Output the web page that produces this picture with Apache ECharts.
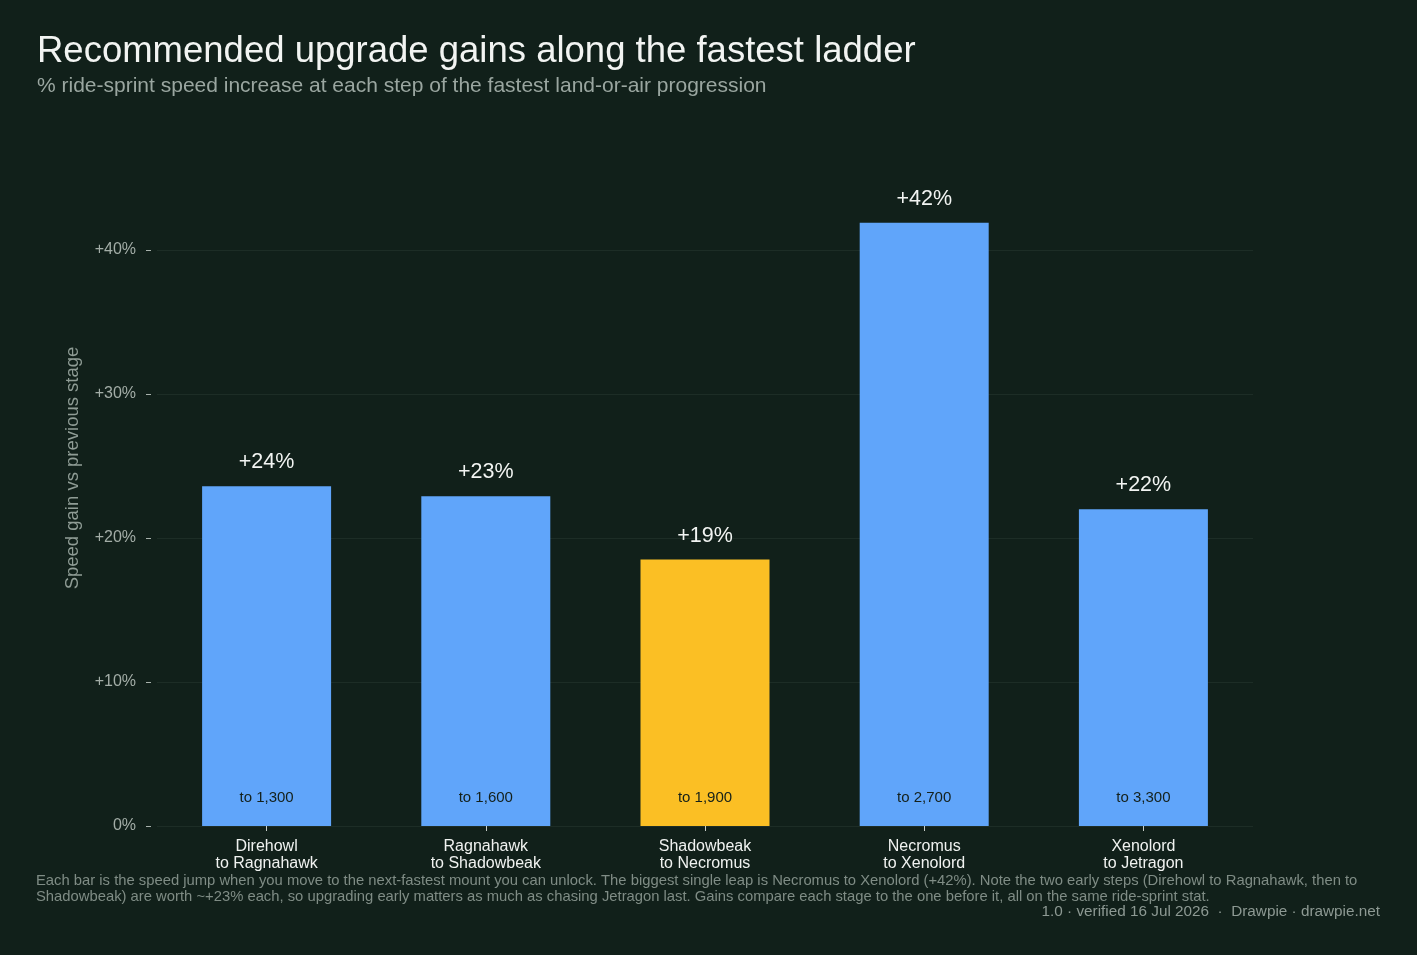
<!DOCTYPE html>
<html>
<head>
<meta charset="utf-8">
<script src="https://cdn.jsdelivr.net/npm/echarts@6/dist/echarts.min.js"></script>
<style>
  html, body { margin: 0; padding: 0; background: #11201a; }
  #main { width: 1417px; height: 955px; }
</style>
</head>
<body>
<div id="main"></div>
<script>
// ladder steps
var fromMounts = ['Direhowl', 'Ragnahawk', 'Shadowbeak', 'Necromus', 'Xenolord'];
var toMounts = ['Ragnahawk', 'Shadowbeak', 'Necromus', 'Xenolord', 'Jetragon'];
// % gain vs previous stage
var gains = [23.6, 22.9, 18.5, 41.9, 22.0];
// ride-sprint speed reached
var targetSpeeds = [1300, 1600, 1900, 2700, 3300];
var highlightIndex = 2;
var yTicks = [0, 10, 20, 30, 40];

var categories = fromMounts.map(function (f, i) { return f + '\nto ' + toMounts[i]; });

var chartDom = document.getElementById('main');
var myChart = echarts.init(chartDom, null, { renderer: 'canvas' });

var fontFam = '"Liberation Sans", Arial, sans-serif';

var option = {
    backgroundColor: '#11201a',
    animation: false,
    textStyle: { fontFamily: fontFam },
    title: {
        text: 'Recommended upgrade gains along the fastest ladder',
        subtext: '% ride-sprint speed increase at each step of the fastest land-or-air progression',
        left: 32,
        top: 28,
        itemGap: 6,
        textStyle: { color: '#f2f4f2', fontSize: 36.5, fontWeight: 'normal', fontFamily: fontFam },
        subtextStyle: { color: '#9aa6a0', fontSize: 21, fontFamily: fontFam }
    },
    grid: {
        left: 157,
        right: 164,
        top: 250,
        bottom: 129,
        containLabel: false
    },
    xAxis: {
        type: 'category',
        data: categories,
        axisLine: { show: false },
        axisTick: { show: true, alignWithLabel: true, length: 5, lineStyle: { color: '#c8cec9' } },
        axisLabel: { color: '#f0f2f0', fontSize: 16, margin: 12, lineHeight: 17 }
    },
    yAxis: {
        type: 'value',
        min: yTicks[0],
        max: yTicks[yTicks.length - 1],
        interval: 10,
        offset: 6,
        axisLine: { show: false },
        axisTick: { show: true, length: 5, lineStyle: { color: '#a8b2ac' } },
        axisLabel: {
            color: '#a3ada7',
            fontSize: 16,
            margin: 15,
            formatter: function (v) { return v === 0 ? '0%' : '+' + v + '%'; }
        },
        splitLine: { show: true, lineStyle: { color: '#1d2d26', width: 1 } }
    },
    series: [
        {
            type: 'bar',
            data: gains.map(function (v, i) {
                return { value: v, itemStyle: { color: i === highlightIndex ? '#fbbf24' : '#60a5fa' } };
            }),
            barWidth: 129,
            clip: false,
            label: {
                show: true,
                position: 'top',
                distance: 13,
                color: '#f2f4f2',
                fontSize: 21.5,
                formatter: function (p) { return '+' + Math.round(p.value) + '%'; }
            }
        },
        {
            type: 'bar',
            data: gains,
            barWidth: 129,
            barGap: '-100%',
            clip: false,
            silent: true,
            itemStyle: { color: 'rgba(0,0,0,0)' },
            label: {
                show: true,
                position: 'insideBottom',
                distance: 21,
                color: '#14201a',
                fontSize: 15,
                formatter: function (p) { return 'to ' + targetSpeeds[p.dataIndex].toLocaleString('en-US'); }
            }
        }
    ],
    graphic: [
        {
            type: 'text',
            x: 73,
            y: 468,
            rotation: Math.PI / 2,
            style: {
                text: 'Speed gain vs previous stage',
                fill: '#8f9c95',
                fontSize: 18.5,
                align: 'center',
                verticalAlign: 'middle',
                fontFamily: fontFam
            }
        },
        {
            type: 'text',
            left: 36,
            top: 873,
            style: {
                text: 'Each bar is the speed jump when you move to the next-fastest mount you can unlock. The biggest single leap is Necromus to Xenolord (+42%). Note the two early steps (Direhowl to Ragnahawk, then to\nShadowbeak) are worth ~+23% each, so upgrading early matters as much as chasing Jetragon last. Gains compare each stage to the one before it, all on the same ride-sprint stat.',
                fill: '#7f8c85',
                fontSize: 14.8,
                lineHeight: 16,
                fontFamily: fontFam
            }
        },
        {
            type: 'text',
            right: 37,
            top: 904,
            style: {
                text: '1.0 \u00b7 verified 16 Jul 2026  \u00b7  Drawpie \u00b7 drawpie.net',
                fill: '#8d9993',
                fontSize: 15.3,
                fontFamily: fontFam
            }
        }
    ]
};

option && myChart.setOption(option);
</script>
</body>
</html>
